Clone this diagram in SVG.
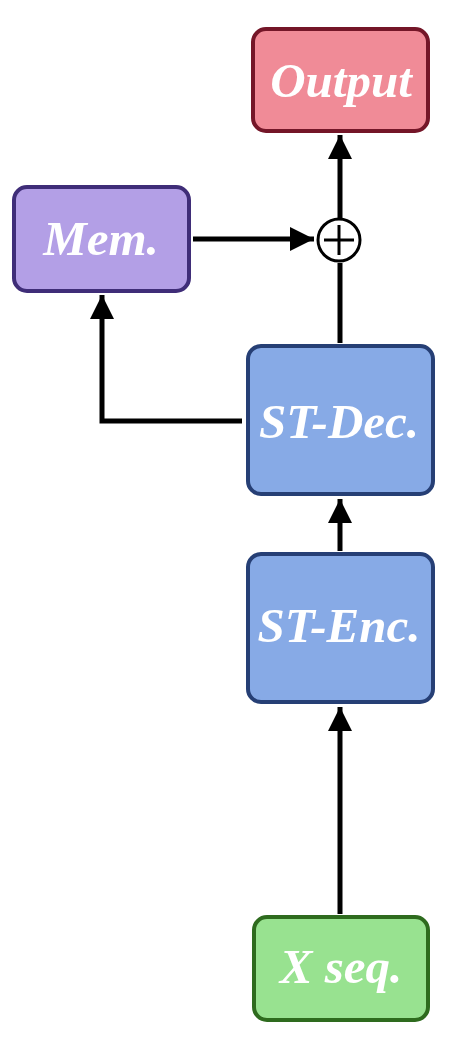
<svg xmlns="http://www.w3.org/2000/svg" width="450" height="1050" viewBox="0 0 450 1050">
<style>
.lbl{font-family:"Liberation Serif","Times New Roman",serif;font-weight:bold;font-style:italic;font-size:49px;fill:#fff;text-anchor:middle}
.box{stroke-width:4}
.wire{stroke:#000;stroke-width:5;fill:none}
</style>
<defs>
<marker id="ah" markerWidth="24" markerHeight="24" viewBox="0 0 24 24" refX="24" refY="12" orient="auto" markerUnits="userSpaceOnUse">
<path d="M0,0 L24,12 L0,24 Z" fill="#000"/>
</marker>
</defs>
<g id="connectors">
<line class="wire" x1="340" y1="914" x2="340" y2="707" marker-end="url(#ah)"/>
<line class="wire" x1="340" y1="551" x2="340" y2="499" marker-end="url(#ah)"/>
<line class="wire" x1="340" y1="343" x2="340" y2="263"/>
<line class="wire" x1="340" y1="218" x2="340" y2="135" marker-end="url(#ah)"/>
<line class="wire" x1="193" y1="239" x2="314" y2="239" marker-end="url(#ah)"/>
<polyline class="wire" points="242,421 102,421 102,295" marker-end="url(#ah)"/>
</g>
<g id="plus">
<circle cx="339" cy="240" r="21" fill="#fff" stroke="#000" stroke-width="3"/>
<line x1="324" y1="240" x2="354" y2="240" stroke="#000" stroke-width="3"/>
<line x1="339" y1="225" x2="339" y2="255" stroke="#000" stroke-width="3"/>
</g>
<g id="output">
<rect class="box" x="253" y="29" width="175" height="102" rx="13" fill="#F08B97" stroke="#741628"/>
<text class="lbl" x="341" y="97">Output</text>
</g>
<g id="mem">
<rect class="box" x="14" y="187" width="175" height="104" rx="13" fill="#B39FE6" stroke="#3F2D78"/>
<text class="lbl" x="101" y="255">Mem.</text>
</g>
<g id="stdec">
<rect class="box" x="248" y="346" width="185" height="148" rx="13" fill="#87AAE6" stroke="#263F75"/>
<text class="lbl" x="339" y="438">ST-Dec.</text>
</g>
<g id="stenc">
<rect class="box" x="248" y="554" width="185" height="148" rx="13" fill="#87AAE6" stroke="#263F75"/>
<text class="lbl" x="339" y="642">ST-Enc.</text>
</g>
<g id="xseq">
<rect class="box" x="254" y="917" width="174" height="103" rx="13" fill="#98E290" stroke="#2E6B1E"/>
<text class="lbl" x="341" y="983">X seq.</text>
</g>
</svg>
